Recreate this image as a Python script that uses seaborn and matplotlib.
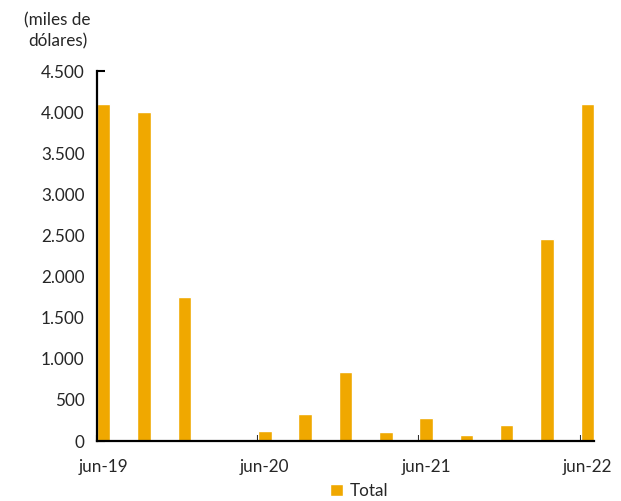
import matplotlib
matplotlib.use("Agg")
import matplotlib.pyplot as plt
import seaborn as sns
import pandas as pd
from matplotlib.ticker import FuncFormatter

# Quarterly totals, thousands of dollars
quarters = ["jun-19", "sep-19", "dic-19", "mar-20", "jun-20", "sep-20", "dic-20",
            "mar-21", "jun-21", "sep-21", "dic-21", "mar-22", "jun-22"]
totals = [4100, 4000, 1750, 0, 120, 330, 840, 105, 280, 75, 200, 2460, 4100]
labelled_quarters = ["jun-19", "jun-20", "jun-21", "jun-22"]
y_ticks = [0, 500, 1000, 1500, 2000, 2500, 3000, 3500, 4000, 4500]
series_name = "Total"
unit_label = "(miles de\ndólares)"

BAR_COLOR = "#F0A800"
BAR_WIDTH = 1 / 3
FS = 12.3

sns.set_theme(style="white")
plt.rcParams["font.family"] = ["Lato", "DejaVu Sans"]
plt.rcParams["text.color"] = "#262626"

df = pd.DataFrame({"trimestre": quarters, "total": totals})

fig = plt.figure(figsize=(6.21, 5.01), dpi=100)
ax = fig.add_axes([97 / 621, 60 / 501, 497 / 621, 370 / 501])

sns.barplot(data=df, x="trimestre", y="total", order=quarters, color=BAR_COLOR,
            saturation=1, width=BAR_WIDTH, label=series_name, ax=ax)

half = BAR_WIDTH / 2
ax.set_xlim(-half, len(quarters) - 1 + half)
ax.set_ylim(0, y_ticks[-1])
ax.set_xlabel("")
ax.set_ylabel("")

# y axis
ax.set_yticks(y_ticks)
ax.yaxis.set_major_formatter(FuncFormatter(lambda v, p: f"{v:,.0f}".replace(",", ".")))
ax.tick_params(axis="y", which="major", direction="in", length=6, width=1.5,
               color="black", pad=9, labelsize=FS, labelcolor="#262626", left=True)

# x axis: labels under each June bar, tick marks at the start of each June
label_pos = [quarters.index(q) for q in labelled_quarters]
ax.set_xticks(label_pos)
ax.set_xticklabels(labelled_quarters)
ax.set_xticks([p - half for p in label_pos], minor=True)
ax.tick_params(axis="x", which="major", length=0, pad=13, labelsize=FS,
               labelcolor="#262626")
ax.tick_params(axis="x", which="minor", direction="in", length=4, width=1.5,
               color="black", bottom=True)

for side in ("top", "right"):
    ax.spines[side].set_visible(False)
for side in ("left", "bottom"):
    ax.spines[side].set_color("black")
    ax.spines[side].set_linewidth(1.6)
ax.grid(False)

fig.text(57.5 / 621, 1 - 31 / 501, unit_label, ha="center", va="center",
         fontsize=FS, linespacing=1.35, color="#262626")

handles, labels = ax.get_legend_handles_labels()
if ax.get_legend() is not None:
    ax.get_legend().remove()
fig.legend(handles, labels, loc="center", bbox_to_anchor=(359 / 621, 1 - 491 / 501),
           frameon=False, fontsize=FS, handlelength=0.75, handleheight=0.75,
           handletextpad=0.4, borderpad=0)

fig.savefig("out.png", dpi=100)
